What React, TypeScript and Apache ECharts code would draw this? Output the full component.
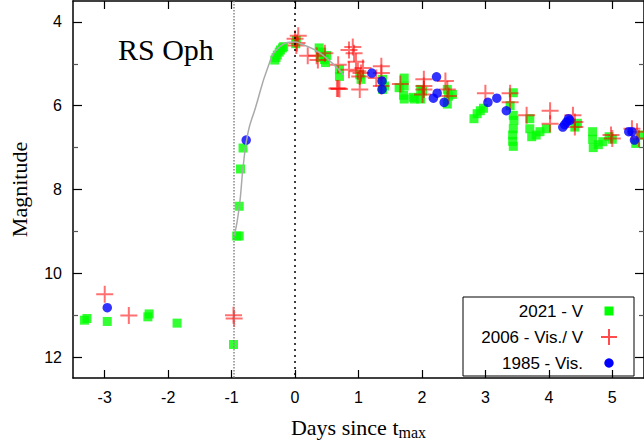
import React, { useEffect, useRef } from 'react';
import * as echarts from 'echarts';

const X_TICKS = [-3, -2, -1, 0, 1, 2, 3, 4, 5];
const Y_TICKS = [4, 6, 8, 10, 12];
const Y_MINOR = [5, 7, 9, 11];
const REF_LINES = [-0.96, 0];
const LEGEND_NAMES = ['2021 - V', '2006 - Vis./ V', '1985 - Vis.'];

// 2021 - V  [days since t_max, magnitude]
const V2021 = [
  [-3.32, 11.12], [-3.28, 11.08], [-2.96, 11.15], [-2.32, 11.04], [-2.3, 10.97], [-1.86, 11.19],
  [-0.97, 11.7], [-0.92, 9.11], [-0.88, 9.11], [-0.88, 8.4], [-0.86, 7.51], [-0.82, 7.01],
  [-0.32, 4.91], [-0.3, 4.85], [-0.28, 4.79], [-0.25, 4.72], [-0.23, 4.67], [-0.2, 4.62], [-0.18, 4.59],
  [0.02, 4.44], [0.01, 4.52],
  [0.38, 4.62], [0.42, 4.72], [0.4, 4.85], [0.46, 4.9], [0.5, 4.8], [0.48, 4.97],
  [0.7, 5.14], [0.7, 5.3], [1.02, 5.26], [1.04, 5.37],
  [1.38, 5.37], [1.38, 5.61], [1.41, 5.53],
  [1.64, 5.57], [1.72, 5.34], [1.72, 5.53], [1.71, 5.75], [1.72, 5.84], [1.86, 5.8], [1.88, 5.84],
  [1.98, 5.61], [2.01, 5.65], [1.98, 5.84],
  [2.4, 5.61], [2.42, 5.77], [2.48, 5.73], [2.4, 5.96],
  [2.82, 6.31], [2.87, 6.19], [2.92, 6.12], [2.97, 6.06],
  [3.44, 5.69], [3.39, 6.0], [3.44, 6.23], [3.45, 6.35], [3.44, 6.55], [3.43, 6.7], [3.43, 6.85], [3.44, 6.97],
  [3.7, 6.31], [3.7, 6.55], [3.73, 6.74], [3.8, 6.7], [3.86, 6.62], [3.96, 6.55],
  [4.41, 6.51], [4.45, 6.42],
  [4.69, 6.62], [4.69, 6.8], [4.7, 7.0], [4.78, 6.93], [4.85, 6.86], [4.95, 6.74], [5.0, 6.8],
  [5.37, 6.9], [5.45, 6.7],
];

// 2006 - Vis./ V
const VIS2006 = [
  [-3.0, 10.5], [-2.62, 11.01], [-0.97, 11.0], [-0.96, 11.08],
  [0.0, 4.4], [0.03, 4.5], [0.05, 4.33], [0.02, 4.56], [0.2, 4.81], [0.34, 4.81], [0.47, 4.75], [0.36, 4.91],
  [0.68, 5.02], [0.66, 5.59], [0.68, 5.59], [0.7, 5.6], [0.85, 4.67], [0.85, 5.14],
  [0.91, 4.6], [0.93, 4.75], [0.96, 4.95], [0.99, 5.18], [1.02, 5.3], [1.02, 5.61], [1.07, 5.1], [1.04, 5.22],
  [1.36, 5.06], [1.36, 5.22], [1.28, 5.34], [1.36, 5.53],
  [1.66, 5.48],
  [2.03, 5.37], [2.03, 5.53], [2.01, 5.73], [2.03, 5.61],
  [2.37, 5.41], [2.4, 5.61], [2.42, 5.77],
  [3.0, 5.7], [3.39, 5.7], [3.39, 5.92], [3.65, 6.23], [4.02, 6.12], [4.02, 6.43],
  [4.38, 6.23], [4.41, 6.39], [4.41, 6.51], [4.98, 6.7], [5.0, 6.78], [5.31, 6.55], [5.39, 6.62], [5.42, 6.78],
];

// 1985 - Vis.
const VIS1985 = [
  [-2.96, 10.82], [-0.77, 6.82], [1.21, 5.22], [1.37, 5.41], [1.37, 5.61],
  [2.23, 5.31], [2.24, 5.7], [2.18, 5.82], [2.35, 5.92],
  [3.04, 5.92], [3.18, 5.82], [3.33, 6.12],
  [4.22, 6.51], [4.28, 6.39], [4.33, 6.35], [4.31, 6.31], [4.25, 6.45],
  [5.26, 6.62], [5.31, 6.62], [5.35, 6.82],
];

// fitted rise curve
const FIT = [
  [-0.955, 9.1], [-0.88, 8.43], [-0.815, 7.41], [-0.74, 6.63], [-0.63, 6.08], [-0.425, 5.07],
  [-0.27, 4.63], [0, 4.48], [0.09, 4.52], [0.4, 4.75], [0.76, 5.26],
];

const SERIF = "'Liberation Serif', 'Times New Roman', serif";
const SANS = "'Liberation Sans', Arial, sans-serif";
const PLUS = 'path://M7.5,0h2v17h-2z M0,7.5h17v2h-17z';
const RED = 'rgba(255,0,0,0.7)';

export default function App() {
  const ref = useRef<HTMLDivElement>(null);
  useEffect(() => {
    if (!ref.current) return;
    const chart = echarts.init(ref.current, null, { renderer: 'svg' });
    const grid = { left: 70, top: 1, width: 575, height: 383 };
    const tickMajor = { show: true, inside: true, length: 9, lineStyle: { color: '#000', width: 1.2 } };
    const tickMinor = { show: true, inside: true, length: 5, lineStyle: { color: '#555', width: 1.2 } };
    const lineOn = { show: true, onZero: false, lineStyle: { color: '#000', width: 1.5 } };
    const lineOff = { show: false, onZero: false };
    const xBase = { type: 'value', min: -3.5, max: 5.5, splitLine: { show: false } };
    const yBase = { type: 'value', min: 3.5, max: 12.5, inverse: true, splitLine: { show: false } };
    const lx = 609;
    const rows = [311, 337, 363];
    const option: any = {
      animation: false,
      backgroundColor: '#fff',
      grid,
      xAxis: [
        {
          ...xBase,
          position: 'bottom',
          axisLine: lineOn,
          axisTick: { ...tickMajor, length: 8, customValues: X_TICKS },
          axisLabel: { customValues: X_TICKS, color: '#000', fontFamily: SANS, fontSize: 16, margin: 11 },
          name: '{a|Days since t}{b|max}',
          nameLocation: 'middle',
          nameGap: 36,
          nameTextStyle: {
            rich: {
              a: { fontFamily: SERIF, fontSize: 22, color: '#000' },
              b: { fontFamily: SERIF, fontSize: 16, color: '#000', padding: [10, 0, 0, 0] },
            },
          },
        },
        {
          ...xBase,
          position: 'top',
          axisLine: lineOn,
          axisTick: { ...tickMajor, length: 8, customValues: X_TICKS },
          axisLabel: { show: false },
        },
      ],
      yAxis: [
        {
          ...yBase,
          position: 'left',
          axisLine: lineOn,
          axisTick: { ...tickMajor, customValues: Y_TICKS },
          axisLabel: { customValues: Y_TICKS, color: '#000', fontFamily: SANS, fontSize: 16, margin: 11 },
          name: 'Magnitude',
          nameLocation: 'middle',
          nameRotate: 90,
          nameGap: 43,
          nameTextStyle: { fontFamily: SERIF, fontSize: 22, color: '#000' },
        },
        {
          ...yBase,
          position: 'left',
          axisLine: lineOff,
          axisTick: { ...tickMinor, customValues: Y_MINOR },
          axisLabel: { show: false },
        },
        {
          ...yBase,
          position: 'right',
          axisLine: lineOn,
          axisTick: { ...tickMajor, customValues: Y_TICKS },
          axisLabel: { show: false },
        },
        {
          ...yBase,
          position: 'right',
          axisLine: lineOff,
          axisTick: { ...tickMinor, customValues: Y_MINOR },
          axisLabel: { show: false },
        },
      ],
      series: [
        {
          name: LEGEND_NAMES[0],
          type: 'scatter',
          data: V2021,
          symbol: 'rect',
          symbolSize: 9,
          itemStyle: { color: '#00ff00' },
          z: 2,
          markLine: {
            silent: true,
            symbol: 'none',
            label: { show: false },
            data: [
              { xAxis: REF_LINES[0], lineStyle: { color: '#888', type: [1.5, 1.5], width: 1.5 } },
              { xAxis: REF_LINES[1], lineStyle: { color: '#000', type: [2, 4], width: 1.5 } },
            ],
          },
        },
        {
          name: LEGEND_NAMES[1],
          type: 'scatter',
          data: VIS2006,
          symbol: PLUS,
          symbolSize: 17,
          itemStyle: { color: RED },
          z: 3,
        },
        {
          name: LEGEND_NAMES[2],
          type: 'scatter',
          data: VIS1985,
          symbol: 'circle',
          symbolSize: 9.5,
          itemStyle: { color: '#0000ff' },
          z: 4,
        },
        {
          name: 'fit',
          type: 'line',
          data: FIT,
          smooth: true,
          showSymbol: false,
          symbol: 'none',
          lineStyle: { color: '#aaaaaa', width: 1.5 },
          z: 5,
        },
      ],
      graphic: [
        {
          type: 'text',
          left: 118,
          top: 34,
          style: { text: 'RS Oph', fontFamily: SERIF, fontSize: 30, fill: '#000' },
          z: 10,
        },
        {
          type: 'group',
          z: 20,
          children: [
            {
              type: 'rect',
              shape: { x: 463, y: 297, width: 171, height: 79 },
              style: { fill: '#fff', stroke: '#000', lineWidth: 1 },
            },
            ...LEGEND_NAMES.map((n, i) => ({
              type: 'text',
              x: 583,
              y: rows[i],
              style: {
                text: n,
                fontFamily: SANS,
                fontSize: 17,
                fill: '#000',
                textAlign: 'right',
                textVerticalAlign: 'middle',
              },
            })),
            {
              type: 'rect',
              shape: { x: lx - 4.5, y: rows[0] - 4.5, width: 9, height: 9 },
              style: { fill: '#00ff00' },
            },
            {
              type: 'polygon',
              shape: {
                points: [
                  [lx - 1, rows[1] - 8], [lx + 1, rows[1] - 8], [lx + 1, rows[1] - 1], [lx + 8, rows[1] - 1],
                  [lx + 8, rows[1] + 1], [lx + 1, rows[1] + 1], [lx + 1, rows[1] + 8], [lx - 1, rows[1] + 8],
                  [lx - 1, rows[1] + 1], [lx - 8, rows[1] + 1], [lx - 8, rows[1] - 1], [lx - 1, rows[1] - 1],
                ],
              },
              style: { fill: RED },
            },
            {
              type: 'circle',
              shape: { cx: lx, cy: rows[2], r: 4.7 },
              style: { fill: '#0000ff' },
            },
          ],
        },
      ],
    };
    chart.setOption(option);
    return () => chart.dispose();
  }, []);
  return (
    <div
      ref={ref}
      style={{ position: 'fixed', left: 0, top: 0, width: 644, height: 445, background: '#fff' }}
    />
  );
}
